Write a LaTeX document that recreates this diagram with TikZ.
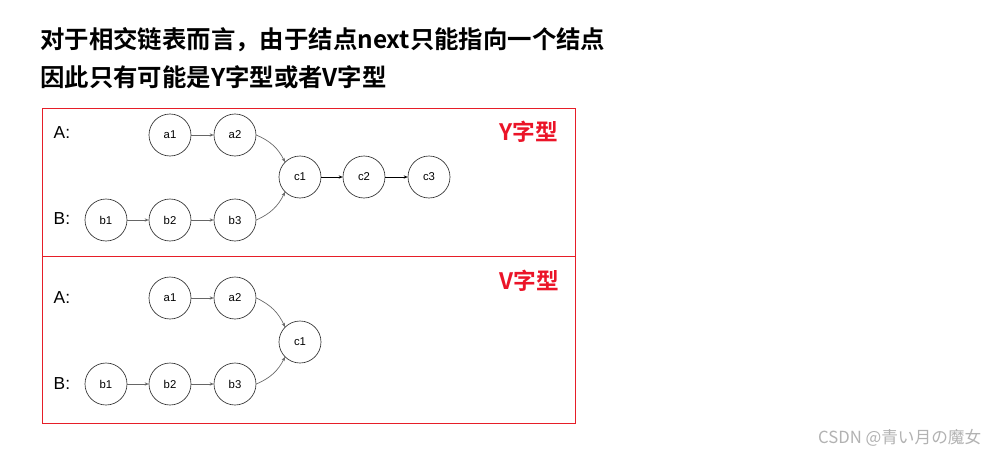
\documentclass[tikz,border=0pt]{standalone}
\usepackage{fontspec}
\setmainfont{Liberation Sans}
\newfontfamily\cjk{Noto Sans CJK SC}
\newfontfamily\cjkb{Noto Sans CJK SC Bold}
\usetikzlibrary{arrows.meta}
\definecolor{boxred}{RGB}{230,30,40}
\definecolor{lbl}{RGB}{235,20,40}
\begin{document}
\begin{tikzpicture}[x=0.75pt,y=-0.75pt,
  nd/.style={circle,draw=black!80,line width=0.5pt,minimum size=31.5pt,inner sep=0pt,font=\fontsize{8.5}{10}\selectfont},
  lk/.style={draw=black!60,line width=0.5pt,-{Stealth[length=3pt,width=2.5pt]}},
  lab/.style={font=\fontsize{13}{15}\selectfont,anchor=west},
  ttl/.style={font=\cjkb\fontsize{18.3}{22}\selectfont,anchor=west,inner sep=0pt},
  tag/.style={font=\cjkb\fontsize{17}{20}\selectfont,text=lbl,inner sep=0pt},
  panel/.style={draw=boxred,line width=0.6pt}]
\useasboundingbox (0,0) rectangle (988,455);
\fill[white] (0,0) rectangle (988,455);
\node[ttl] (t1) at (40,40) {对于相交链表而言，由于结点next只能指向一个结点};
\node[ttl] (t2) at (40,77) {因此只有可能是Y字型或者V字型};
\draw[panel] (42,108) rectangle (575,256);
\draw[panel] (42,256) rectangle (575,423);
% Y panel
\node[lab] (A1) at (49,133) {A:};
\node[lab] (B1) at (49,219) {B:};
\node[tag] (y) at (529,132) {Y字型};
\node[nd] (ya1) at (170,135) {a1};
\node[nd] (ya2) at (235,135) {a2};
\node[nd] (yc1) at (300,177) {c1};
\node[nd] (yc2) at (364,177) {c2};
\node[nd] (yc3) at (429,177) {c3};
\node[nd] (yb1) at (106,220) {b1};
\node[nd] (yb2) at (170,220) {b2};
\node[nd] (yb3) at (235,220) {b3};
\draw[lk] (ya1) -- (ya2);
\draw[lk] (yb1) -- (yb2);
\draw[lk] (yb2) -- (yb3);
\draw[lk] (ya2.east) to[bend left=20] (yc1.north west);
\draw[lk] (yb3.east) to[bend right=20] (yc1.south west);
\draw[lk,draw=black] (yc1) -- (yc2);
\draw[lk,draw=black] (yc2) -- (yc3);
% V panel
\node[lab] (A2) at (49,298) {A:};
\node[lab] (B2) at (49,384) {B:};
\node[tag] (v) at (529,281) {V字型};
\node[nd] (va1) at (170,298) {a1};
\node[nd] (va2) at (235,298) {a2};
\node[nd] (vc1) at (300,342) {c1};
\node[nd] (vb1) at (106,384) {b1};
\node[nd] (vb2) at (170,384) {b2};
\node[nd] (vb3) at (235,384) {b3};
\draw[lk] (va1) -- (va2);
\draw[lk] (vb1) -- (vb2);
\draw[lk] (vb2) -- (vb3);
\draw[lk] (va2.east) to[bend left=20] (vc1.north west);
\draw[lk] (vb3.east) to[bend right=20] (vc1.south west);
\node[font=\cjk\fontsize{12.5}{14}\selectfont,text=black!30,anchor=east] (wm) at (986,438) {CSDN @青い月の魔女};
\end{tikzpicture}
\end{document}
